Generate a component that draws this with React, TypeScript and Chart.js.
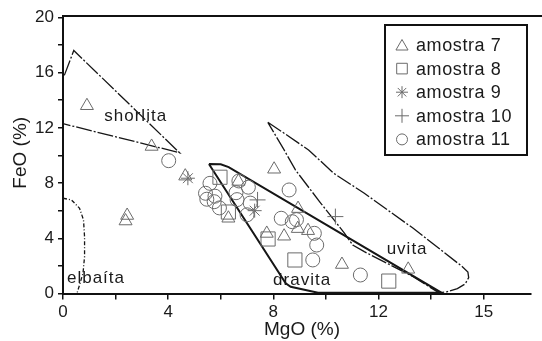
import React, { useEffect, useRef } from "react";
import { Chart, registerables } from "chart.js";

Chart.register(...registerables);

// ---- axis ticks ----
const xTickValues = [0, 2, 4, 6, 8, 10, 12, 14, 16];
const xTickLabels = ["0", "", "4", "", "8", "", "12", "", "15"];
const yTickValues = [0, 2, 4, 6, 8, 10, 12, 14, 16, 18, 20];
const yTickLabels = ["0", "", "4", "", "8", "", "12", "", "16", "", "20"];
const xTitle = "MgO (%)";
const yTitle = "FeO (%)";

// ---- samples ----
const amostra7X = [0.91, 3.37, 4.65, 2.44, 2.38, 6.67, 6.29, 8.03, 8.94, 7.75, 8.41, 8.93, 9.32, 10.61, 13.13];
const amostra7Y = [13.6, 10.65, 8.5, 5.65, 5.25, 8.12, 5.45, 9.0, 6.15, 4.35, 4.15, 4.7, 4.55, 2.1, 1.75];

const amostra8X = [5.97, 6.29, 7.8, 8.82, 12.39];
const amostra8Y = [8.42, 5.9, 3.95, 2.43, 0.9];

const amostra9X = [4.75, 7.29];
const amostra9Y = [8.35, 6.0];

const amostra10X = [7.4, 10.36];
const amostra10Y = [6.78, 5.57];

const amostra11X = [4.02, 5.59, 5.42, 5.47, 5.78, 5.75, 5.95, 6.58, 6.62, 6.69, 7.05, 7.12, 7.0, 8.6, 8.3, 8.72, 8.88, 9.56, 9.65, 9.5, 11.31];
const amostra11Y = [9.62, 7.98, 7.26, 6.83, 7.05, 6.65, 6.2, 7.3, 6.8, 8.15, 7.7, 6.55, 5.7, 7.5, 5.45, 5.2, 5.35, 4.36, 3.51, 2.43, 1.34];

// ---- compositional fields ----
const shorlitaX = [0.05, 0.41, 4.43, 0.0];
const shorlitaY = [15.8, 17.6, 10.2, 12.3];

const elbaitaX = [0.0, 0.32, 0.63, 0.78, 0.82, 0.82, 0.76, 0.63, 0.53];
const elbaitaY = [6.9, 6.78, 6.17, 5.33, 4.1, 2.67, 1.46, 0.62, 0.0];

const dravitaX = [5.55, 6.0, 6.3, 14.4, 9.7, 8.66, 8.47, 5.55];
const dravitaY = [9.38, 9.36, 9.15, 0.05, 0.05, 0.49, 0.74, 9.38];

const uvitaX = [7.79, 8.3, 9.34, 10.3, 11.46, 13.32, 15.19, 15.4, 15.43, 15.3, 15.0, 14.6, 14.3, 13.32, 11.46, 11.02, 10.71, 9.8, 8.84, 8.41, 7.79];
const uvitaY = [12.4, 11.75, 10.4, 8.7, 7.26, 4.72, 1.94, 1.55, 1.15, 0.7, 0.35, 0.12, 0.05, 1.22, 3.03, 3.51, 4.36, 6.55, 8.95, 10.4, 12.4];

const fieldLabels = ["shorlita", "elbaíta", "dravita", "uvita"];
const fieldLabelX = [1.57, 0.15, 7.99, 12.31];
const fieldLabelY = [12.8, 1.1, 0.93, 3.2];

const FONT = "'Liberation Sans', Arial, Helvetica, sans-serif";
const MARKER = "#6b6b6b";
const LINE = "#161616";
const TEXT = "#1a1a1a";

const toPts = (xs: number[], ys: number[]) => xs.map((x, i) => ({ x, y: ys[i] }));

type SeriesDef = { label: string; xs: number[]; ys: number[]; style: string; r: number; lr: number };
const series: SeriesDef[] = [
  { label: "amostra 7", xs: amostra7X, ys: amostra7Y, style: "triangle", r: 7.5, lr: 7 },
  { label: "amostra 8", xs: amostra8X, ys: amostra8Y, style: "rect", r: 10, lr: 7.5 },
  { label: "amostra 9", xs: amostra9X, ys: amostra9Y, style: "star", r: 7, lr: 6 },
  { label: "amostra 10", xs: amostra10X, ys: amostra10Y, style: "cross", r: 8, lr: 7 },
  { label: "amostra 11", xs: amostra11X, ys: amostra11Y, style: "circle", r: 7, lr: 5.5 },
];

function drawMarker(ctx: CanvasRenderingContext2D, style: string, x: number, y: number, r: number) {
  ctx.beginPath();
  if (style === "triangle") {
    for (let k = 0; k < 3; k++) {
      const a = (k * 2 * Math.PI) / 3;
      const px = x + Math.sin(a) * r;
      const py = y - Math.cos(a) * r;
      if (k === 0) ctx.moveTo(px, py);
      else ctx.lineTo(px, py);
    }
    ctx.closePath();
  } else if (style === "rect") {
    const s = Math.SQRT1_2 * r;
    ctx.rect(x - s, y - s, 2 * s, 2 * s);
  } else if (style === "star") {
    for (let k = 0; k < 4; k++) {
      const a = (k * Math.PI) / 4;
      ctx.moveTo(x + Math.cos(a) * r, y + Math.sin(a) * r);
      ctx.lineTo(x - Math.cos(a) * r, y - Math.sin(a) * r);
    }
  } else if (style === "cross") {
    ctx.moveTo(x - r, y);
    ctx.lineTo(x + r, y);
    ctx.moveTo(x, y - r);
    ctx.lineTo(x, y + r);
  } else {
    ctx.arc(x, y, r, 0, Math.PI * 2);
  }
  ctx.stroke();
}

const overlayPlugin = {
  id: "overlay",
  afterDraw(chart: any) {
    const { ctx, chartArea, scales } = chart;
    ctx.save();
    // top frame line
    ctx.strokeStyle = "#111";
    ctx.lineWidth = 2;
    ctx.beginPath();
    ctx.moveTo(chartArea.left - 1, chartArea.top);
    ctx.lineTo(chart.width, chartArea.top);
    ctx.stroke();

    // axis titles
    ctx.fillStyle = TEXT;
    ctx.font = `19px ${FONT}`;
    ctx.textAlign = "center";
    ctx.textBaseline = "middle";
    ctx.fillText(xTitle, (chartArea.left + chartArea.right) / 2 + 5, 330);
    ctx.save();
    ctx.translate(21, (chartArea.top + chartArea.bottom) / 2 - 2);
    ctx.rotate(-Math.PI / 2);
    ctx.fillText(yTitle, 0, 0);
    ctx.restore();

    // field names
    ctx.font = `17px ${FONT}`;
    (ctx as any).letterSpacing = "1px";
    ctx.textAlign = "left";
    ctx.textBaseline = "middle";
    fieldLabels.forEach((t, i) => {
      ctx.fillText(t, scales.x.getPixelForValue(fieldLabelX[i]), scales.y.getPixelForValue(fieldLabelY[i]));
    });

    // legend box
    const bw = 142;
    const bh = 130;
    const bx = chartArea.right - 146;
    const by = chartArea.top + 9;
    ctx.fillStyle = "#fff";
    ctx.fillRect(bx, by, bw, bh);
    ctx.strokeStyle = "#111";
    ctx.lineWidth = 2;
    ctx.strokeRect(bx, by, bw, bh);
    ctx.font = `18px ${FONT}`;
    (ctx as any).letterSpacing = "0.6px";
    series.forEach((s, i) => {
      const cy = by + 20 + i * 23.6;
      ctx.strokeStyle = MARKER;
      ctx.lineWidth = 1;
      drawMarker(ctx, s.style, bx + 17, cy + (s.style === "triangle" ? 1.5 : 0), s.lr);
      ctx.fillStyle = TEXT;
      ctx.fillText(s.label, bx + 31, cy + 1);
    });
    ctx.restore();
  },
};

export default function App() {
  const ref = useRef<HTMLCanvasElement | null>(null);
  useEffect(() => {
    if (!ref.current) return;
    Chart.defaults.font.family = FONT;
    const lineDs = (label: string, xs: number[], ys: number[], dash: number[], width: number) => ({
      label,
      data: toPts(xs, ys),
      showLine: true,
      pointRadius: 0,
      borderColor: LINE,
      borderWidth: width,
      borderDash: dash,
      fill: false,
      tension: 0,
    });
    const chart = new Chart(ref.current, {
      type: "scatter",
      data: {
        datasets: [
          ...series.map((s) => ({
            label: s.label,
            data: toPts(s.xs, s.ys),
            pointStyle: s.style as any,
            pointRadius: s.r,
            pointBorderColor: MARKER,
            pointBackgroundColor: "rgba(0,0,0,0)",
            pointBorderWidth: 1,
            showLine: false,
          })),
          lineDs("shorlita", shorlitaX, shorlitaY, [16, 2, 2, 2], 1.3),
          lineDs("elbaíta", elbaitaX, elbaitaY, [4, 2, 1, 2], 1.3),
          lineDs("dravita", dravitaX, dravitaY, [], 2),
          lineDs("uvita", uvitaX, uvitaY, [16, 2, 2, 2], 1.3),
        ] as any,
      },
      plugins: [overlayPlugin],
      options: {
        animation: false,
        responsive: false,
        devicePixelRatio: 1,
        layout: { padding: { top: 16, right: 1, left: 0, bottom: 0 } },
        plugins: { legend: { display: false }, tooltip: { enabled: false } },
        scales: {
          x: {
            type: "linear",
            min: 0,
            max: 17.8,
            afterBuildTicks: (scale: any) => {
              scale.ticks = xTickValues.map((v) => ({ value: v }));
            },
            afterFit: (scale: any) => {
              scale.height = 47.5;
            },
            ticks: {
              autoSkip: false,
              maxRotation: 0,
              color: TEXT,
              font: { size: 17 },
              padding: 3,
              callback: (v: any) => {
                const i = xTickValues.indexOf(Number(v));
                return i >= 0 ? xTickLabels[i] : "";
              },
            },
            grid: { drawOnChartArea: false, drawTicks: true, tickLength: 6, color: "#111", lineWidth: 1.5 },
            border: { display: true, color: "#111", width: 2 },
            title: { display: false },
          },
          y: {
            type: "linear",
            min: 0,
            max: 20.1,
            afterBuildTicks: (scale: any) => {
              scale.ticks = yTickValues.map((v) => ({ value: v }));
            },
            afterFit: (scale: any) => {
              scale.width = 63;
            },
            ticks: {
              autoSkip: false,
              color: TEXT,
              font: { size: 17 },
              padding: 4,
              callback: (v: any) => {
                const i = yTickValues.indexOf(Number(v));
                return i >= 0 ? yTickLabels[i] : "";
              },
            },
            grid: { drawOnChartArea: false, drawTicks: true, tickLength: 5, color: "#111", lineWidth: 1.5 },
            border: { display: true, color: "#111", width: 2 },
            title: { display: false },
          },
        },
      } as any,
    });
    return () => chart.destroy();
  }, []);
  return (
    <div style={{ position: "fixed", left: 0, top: 0, width: 542, height: 341, background: "#fff" }}>
      <canvas ref={ref} width={542} height={341} style={{ display: "block" }} />
    </div>
  );
}
